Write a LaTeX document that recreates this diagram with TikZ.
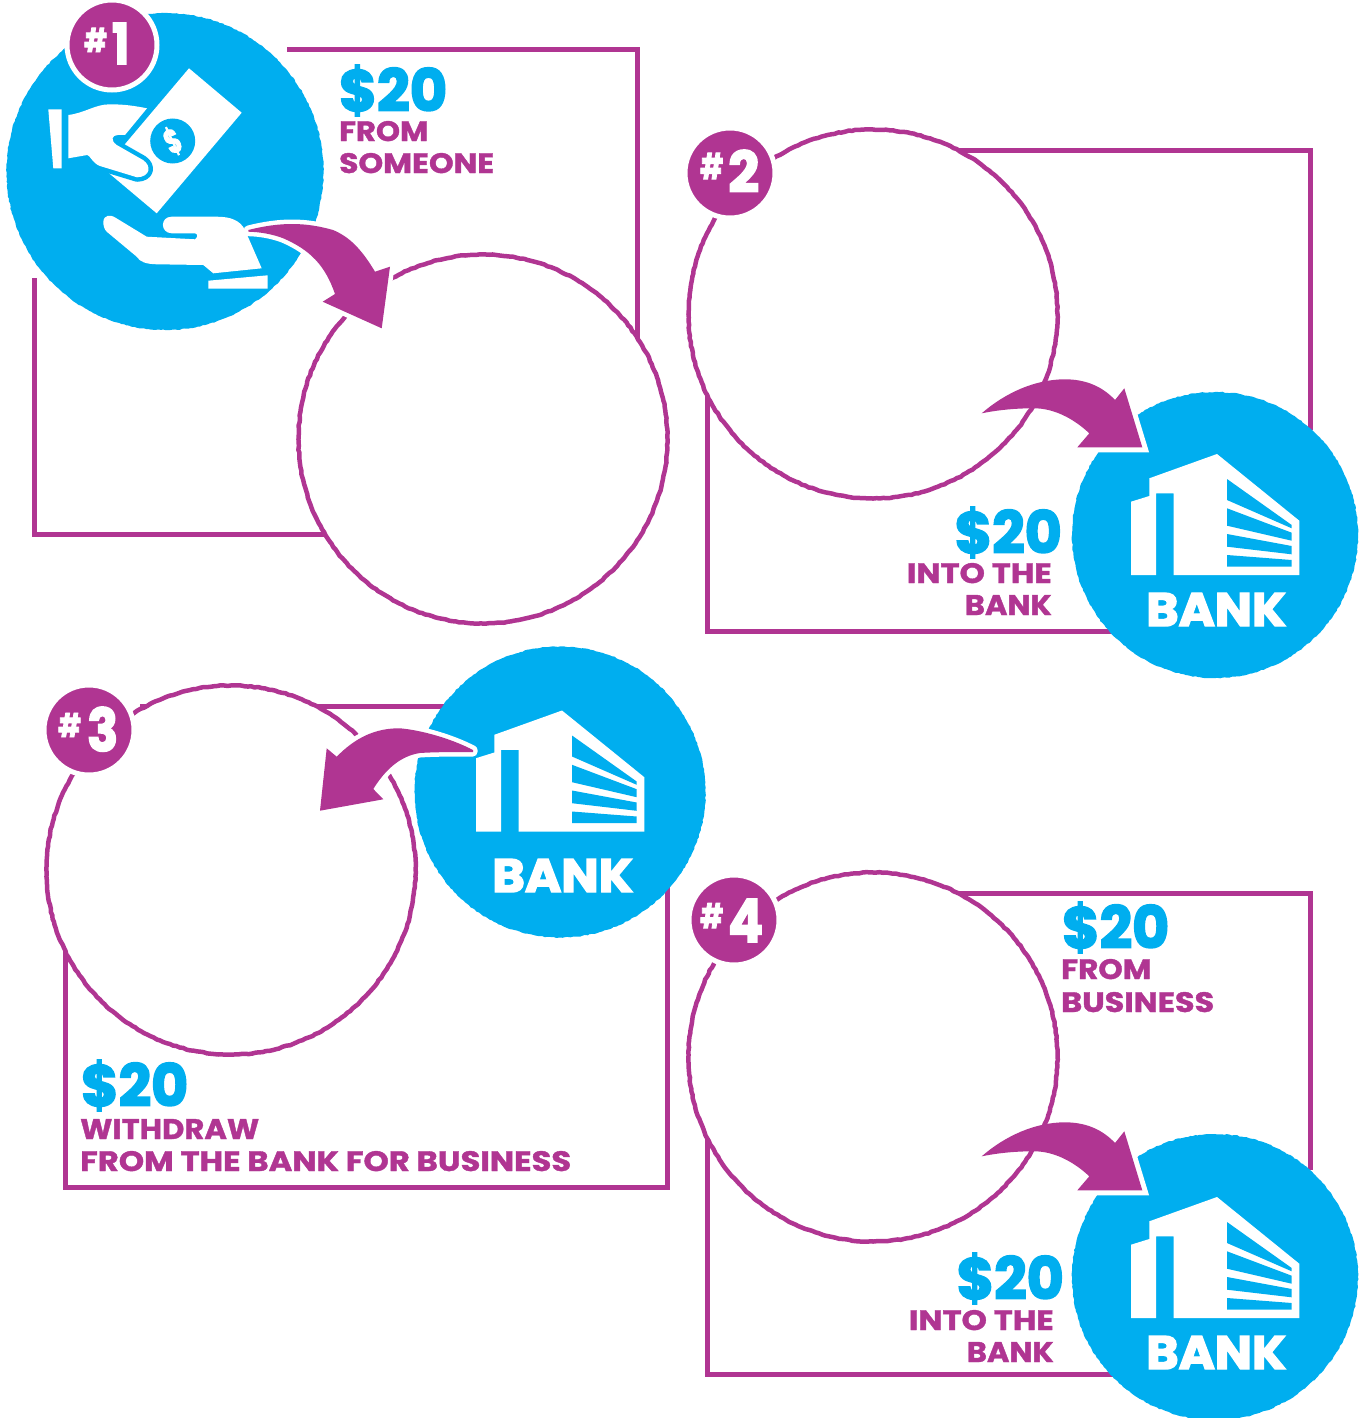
\documentclass[tikz,border=0pt]{standalone}
\usepackage{fontspec}
\usepackage{graphicx}
\usetikzlibrary{decorations.pathmorphing}
\setmainfont{Poppins}[BoldFont=* Bold,BoldFeatures={FakeBold=1.2}]
\newfontfamily\heavy{Poppins}[UprightFont=* Bold,UprightFeatures={FakeBold=3}]
\definecolor{pblue}{HTML}{00AEEF}
\definecolor{ppurple}{HTML}{B03592}
\newcommand\fitbox[3]{\resizebox{#1pt}{#2pt}{#3}}
\newcommand\money[1]{\raisebox{0pt}[46pt][0pt]{\fitbox{#1}{46}{\heavy\$20}}}
\tikzset{
  frameline/.style={draw=ppurple,line width=5pt,line join=miter,line cap=butt},
  ringnode/.style={circle,draw=ppurple,fill=white,line width=4.5pt,minimum size=369pt,inner sep=0pt,line join=round,
     decorate,decoration={random steps,segment length=3.5pt,amplitude=.45pt}},
  disc/.style={circle,fill=pblue,inner sep=0pt,minimum size=#1,
     decorate,decoration={random steps,segment length=2.5pt,amplitude=.5pt}},
  badge/.style={circle,fill=ppurple,draw=white,line width=5pt,minimum size=90pt,inner sep=0pt},
  txtp/.style={anchor=base west,inner sep=0pt,text=ppurple,font=\bfseries},
  txtpr/.style={anchor=base east,inner sep=0pt,text=ppurple,font=\bfseries},
  txtb/.style={anchor=base west,inner sep=0pt,text=pblue},
  txtbr/.style={anchor=base east,inner sep=0pt,text=pblue},
  txtw/.style={anchor=base west,inner sep=0pt,text=white,font=\heavy},
  badgetext/.style={anchor=base west,inner sep=0pt,text=white,font=\heavy},
  halo/.style={draw=white,line width=10pt,line join=miter,miter limit=6},
  softhalo/.style={draw=white,line width=9pt,line join=round},
  arrowfill/.style={fill=ppurple},
  iconw/.style={fill=white},
  iconb/.style={fill=pblue},
}
% building: the drawing of panel 2, moved by (#1,#2)
\newcommand\buildingicon[2]{%
\begin{scope}[shift={(#1,#2)}]
  \path[iconw] (1131,501.7) -- (1149.3,496) -- (1149.3,478.3) -- (1217,454) -- (1299.3,520.7) -- (1299.3,575)
     -- (1173.7,575) -- (1173.7,493.3) -- (1156,493.3) -- (1156,575) -- (1131,575) -- cycle;
  \path[iconb] (1227,479) -- (1291.7,525) -- (1291.7,528.3) -- (1227,500) -- cycle;
  \path[iconb] (1227,508.3) -- (1291.7,532.7) -- (1291.7,540.7) -- (1227,525.7) -- cycle;
  \path[iconb] (1227,534) -- (1291.7,546) -- (1291.7,554.3) -- (1227,546.7) -- cycle;
  \path[iconb] (1227,555) -- (1291.7,560) -- (1291.7,566.7) -- (1227,566.7) -- cycle;
\end{scope}}
\newcommand\arrowtwopath{(981.7,413.3) .. controls (1005,393) and (1035,379.3) .. (1065,379.3)
   .. controls (1085,379.3) and (1102,386) .. (1115,400) -- (1124.3,388.3) -- (1142.3,447.3) -- (1077.3,447.3) -- (1089.3,433.3)
   .. controls (1073,418) and (1053,408) .. (1033.3,408.3) .. controls (1015,408.3) and (998,410) .. (981.7,413.3) -- cycle}
\newcommand\arrowonepath{(248.3,230) .. controls (280,222) and (305,222) .. (333,230)
   .. controls (350,237) and (362,250) .. (375,271.7) -- (390,266.7) -- (381.7,328.3) -- (322.7,301.7) -- (335,294)
   .. controls (325,265) and (310,250) .. (283.3,238.3) .. controls (272,234) and (260,232) .. (248.3,231.7) -- cycle}
\newcommand\arrowthreepath{(473,750) .. controls (450,738) and (420,730) .. (400,728.3)
   .. controls (375,728) and (355,738) .. (336.7,756.7) -- (326.7,748.3) -- (320,810.7) -- (383.3,799.3) -- (373.3,789)
   .. controls (385,770) and (400,756) .. (420,753) .. controls (435,752) and (455,752) .. (473,752) -- cycle}
\begin{document}
\begin{tikzpicture}[x=1pt,y=-1pt]
\useasboundingbox (0,0) rectangle (1364,1418);
\pgfmathsetseed{7}
% ---------- panel 1
\draw[frameline] (287,50) -- (637,50) -- (637,360);
\draw[frameline] (34,278) -- (34,534) -- (340,534);
\node[ringnode] (ring1) at (483,439) {};
\node[disc=317pt] (disc1) at (165,171.5) {};
% bill and hands
\path[iconw] (189,68.3) -- (241.7,112.7) -- (156.7,213.3) -- (104,169) -- cycle;
\node[circle,fill=pblue,minimum size=45pt,inner sep=0pt] (coin) at (172.7,141) {};
\node[rotate=25,text=white,font=\heavy,inner sep=0pt] (coinlabel) at (coin) {\fitbox{15}{27}{\$}};
\path[iconw] (48.3,109.3) -- (61.7,109.3) -- (61.7,168.3) -- (53.3,168.3) -- cycle;
\path[iconw,preaction={draw=pblue,line width=9pt,line join=round}] (68.3,115) .. controls (85,113) and (95,104.3) .. (110,104.3)
   .. controls (125,104.3) and (135,106) .. (147,108.3) -- (125,135) -- (118,135) .. controls (112,135) and (110,140) .. (116.7,145)
   -- (143,160) .. controls (152,166) and (150,177) .. (137,177.3) -- (100,166) .. controls (92,163) and (90,155) .. (87.3,155) -- (68.3,158.3) -- cycle;
\path[iconw] (103.3,221.7) .. controls (104,215) and (110,214) .. (116,218) -- (146.7,236.7) -- (195,239.3)
   .. controls (198,237) and (198,234) .. (195,233.3) -- (171.7,233.3) .. controls (160,233) and (160,216.7) .. (171.7,216.7)
   -- (216.7,216.7) .. controls (230,216.7) and (240,220) .. (245,230) -- (261.7,268.3) -- (213.3,273.3) -- (203.3,265) -- (156.7,264.3)
   .. controls (146,264) and (140,262) .. (136.7,256.7) -- (106.7,231.7) .. controls (104,229) and (103.3,225) .. (103.3,221.7) -- cycle;
\path[iconw] (208.3,280.7) -- (267.7,275.3) -- (267.7,288.7) -- (208.3,288.7) -- cycle;
\path[softhalo] \arrowonepath;
\path[arrowfill] \arrowonepath;
\node[badge] (badge1) at (112,45) {};
\node[badgetext] (label1) at (84,64) {\raisebox{12pt}{\fitbox{23}{24}{\#}}\hspace{5pt}\fitbox{17}{41}{1}};
\node[txtb] (m1) at (339,111) {\money{108}};
\node[txtp] (t1a) at (339,141) {\fitbox{89}{20}{FROM}};
\node[txtp] (t1b) at (339,173) {\fitbox{155}{20}{SOMEONE}};
% ---------- panel 2
\draw[frameline] (950,150) -- (1310,150) -- (1310,430);
\draw[frameline] (707,380) -- (707,631) -- (1120,631);
\node[ringnode] (ring2) at (873,314) {};
\node[disc=286pt] (disc2) at (1215,535) {};
\begin{scope}
  \clip (1215,535) circle[radius=144];
  \path[halo] \arrowtwopath;
\end{scope}
\path[arrowfill] \arrowtwopath;
\buildingicon{0}{0}
\node[txtw] (bank2) at (1146,626) {\fitbox{140}{33}{BANK}};
\node[badge] (badge2) at (730,173) {};
\node[badgetext] (label2) at (700,192) {\raisebox{13pt}{\fitbox{23}{26}{\#}}\hspace{5pt}\fitbox{31}{42}{2}};
\node[txtbr] (m2) at (1062,553) {\money{107}};
\node[txtpr] (t2a) at (1052,583) {\fitbox{145}{20}{INTO THE}};
\node[txtpr] (t2b) at (1052,615) {\fitbox{87}{20}{BANK}};
% ---------- panel 3
\draw[frameline] (140,706) -- (450,706);
\draw[frameline] (65,940) -- (65,1187) -- (667,1187) -- (667,880);
\node[ringnode] (ring3) at (231,870) {};
\node[disc=291pt] (disc3) at (560,792) {};
\buildingicon{-655}{256.5}
\path[softhalo] \arrowthreepath;
\path[arrowfill] \arrowthreepath;
\node[txtw] (bank3) at (492,892) {\fitbox{141}{33}{BANK}};
\node[badge] (badge3) at (89,730) {};
\node[badgetext] (label3) at (58,751) {\raisebox{14pt}{\fitbox{23}{24}{\#}}\hspace{6pt}\fitbox{31}{44}{3}};
\node[txtb] (m3) at (81,1106) {\money{107}};
\node[txtp] (t3a) at (80,1139) {\fitbox{179}{20}{WITHDRAW}};
\node[txtp] (t3b) at (80,1171) {\fitbox{491}{20}{FROM THE BANK FOR BUSINESS}};
% ---------- panel 4
\draw[frameline] (950,893) -- (1310,893) -- (1310,1170);
\draw[frameline] (707,1130) -- (707,1374) -- (1120,1374);
\node[ringnode] (ring4) at (873,1057) {};
\node[disc=286pt] (disc4) at (1215,1277) {};
\begin{scope}[shift={(0,743)}]
  \begin{scope}
    \clip (1215,534) circle[radius=144];
    \path[halo] \arrowtwopath;
  \end{scope}
  \path[arrowfill] \arrowtwopath;
\end{scope}
\buildingicon{0}{743}
\node[txtw] (bank4) at (1146,1369) {\fitbox{140}{33}{BANK}};
\node[badge] (badge4) at (734,920) {};
\node[badgetext] (label4) at (700,942) {\raisebox{14pt}{\fitbox{23}{25}{\#}}\hspace{5pt}\fitbox{35}{43}{4}};
\node[txtb] (m4a) at (1062,948) {\money{107}};
\node[txtp] (t4a) at (1061,979) {\fitbox{90}{20}{FROM}};
\node[txtp] (t4b) at (1061,1012) {\fitbox{153}{20}{BUSINESS}};
\node[txtbr] (m4b) at (1064,1299) {\money{107}};
\node[txtpr] (t4c) at (1054,1330) {\fitbox{145}{20}{INTO THE}};
\node[txtpr] (t4d) at (1054,1362) {\fitbox{87}{20}{BANK}};
\end{tikzpicture}
\end{document}
